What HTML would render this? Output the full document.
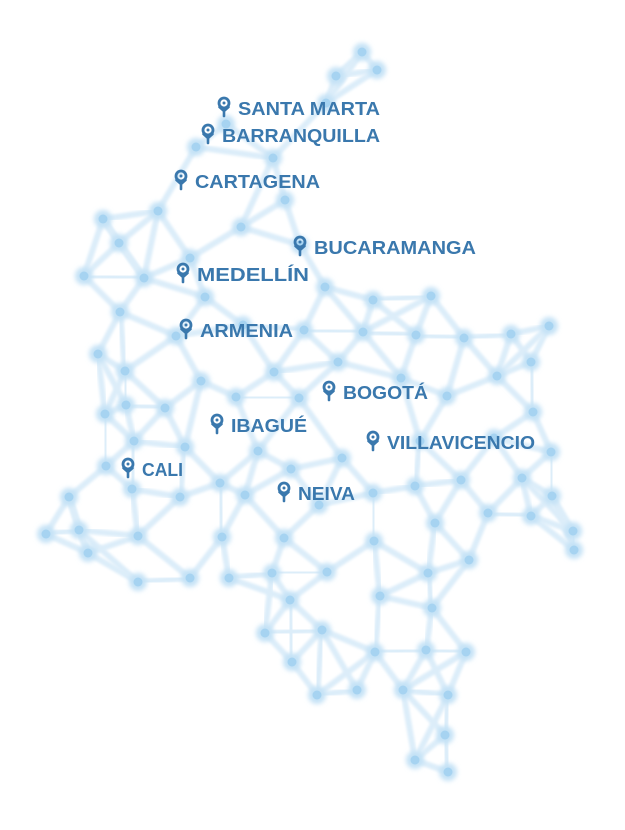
<!DOCTYPE html>
<html><head><meta charset="utf-8"><style>
html,body{margin:0;padding:0;background:#fff;width:625px;height:830px;overflow:hidden}
svg{display:block}
text{font-family:"Liberation Sans",sans-serif;font-weight:bold;font-size:18px;fill:#3a78ad}
</style></head><body>
<svg id="map" width="625" height="830" viewBox="0 0 625 830">
<defs><filter id="bl" x="-1" y="-1" width="3" height="3"><feGaussianBlur stdDeviation="2.5"/></filter>
<filter id="bl2"><feGaussianBlur stdDeviation="1.2"/></filter></defs>
<g id="edges"></g>
<g id="nodes"></g>
<g id="labels"></g>
</svg>
<script>
const nodeX=[362,377,336,326,226,196,273,158,103,119,285,241,300,190,84,144,205,120,325,373,431,243,304,363,416,464,511,549,98,176,338,531,125,201,274,401,497,447,105,126,165,236,299,533,134,185,258,420,342,494,551,106,220,291,69,132,180,245,319,373,415,461,522,552,46,79,488,531,573,574,435,138,222,284,374,469,88,190,138,229,272,327,428,290,380,432,265,322,375,426,292,466,317,357,403,448,445,415,448];
const nodeY=[52,70,76,103,124,147,158,211,219,243,200,227,245,258,276,278,297,312,287,300,296,325,330,332,335,338,334,326,354,336,362,362,371,381,372,378,376,396,414,405,408,397,398,412,441,447,451,441,458,438,452,466,483,469,497,489,497,495,505,493,486,480,478,496,534,530,513,516,531,550,523,536,537,538,541,560,553,578,582,578,573,572,573,600,596,608,633,630,652,650,662,652,695,690,690,695,735,760,772];
const cities=["SANTA MARTA","BARRANQUILLA","CARTAGENA","BUCARAMANGA","MEDELLÍN","ARMENIA","BOGOTÁ","IBAGUÉ","VILLAVICENCIO","CALI","NEIVA"];
const cityPinX=[224,208,181,300,183,186,329,217,373,128,284];
const cityPinY=[106,133,179,245,272,328,390,423,440,467,491];
const cityTextW=[142,158,125,162,112,93,85,76,148,41,57];
const NS='http://www.w3.org/2000/svg';
const eg=document.getElementById('edges'),ng=document.getElementById('nodes'),lg=document.getElementById('labels');
const n=nodeX.length,seen={};
for(let i=0;i<n;i++){
  const d=[];for(let j=0;j<n;j++)if(j!==i)d.push([Math.hypot(nodeX[i]-nodeX[j],nodeY[i]-nodeY[j]),j]);
  d.sort((a,b)=>a[0]-b[0]);
  for(let k=0;k<4;k++){const [dist,j]=d[k];if(dist>80&&k>0)continue;const key=Math.min(i,j)+'-'+Math.max(i,j);if(seen[key])continue;seen[key]=1;
    const l=document.createElementNS(NS,'line');
    
    
    l.setAttribute('x1',nodeX[i]);l.setAttribute('y1',nodeY[i]);l.setAttribute('x2',nodeX[j]);l.setAttribute('y2',nodeY[j]);
    l.setAttribute('stroke','#dcedf9');l.setAttribute('stroke-width','6');l.setAttribute('stroke-linecap','round');l.setAttribute('filter','url(#bl2)');
    eg.appendChild(l);}
}
for(let i=0;i<n;i++){
  const g=document.createElementNS(NS,'g');
  
  
  g.innerHTML=`<circle cx="${nodeX[i]}" cy="${nodeY[i]}" r="9" fill="#c4e2f6" filter="url(#bl)"/><circle cx="${nodeX[i]}" cy="${nodeY[i]}" r="4.5" fill="#a6d3f1"/>`;
  ng.appendChild(g);
}
for(let i=0;i<cities.length;i++){
  const x=cityPinX[i],y=cityPinY[i];
  const g=document.createElementNS(NS,'g');
  
  
  g.innerHTML=`<circle cx="${x}" cy="${y-3}" r="5" fill="none" stroke="#3a78ad" stroke-width="2.8"/><circle cx="${x}" cy="${y-3}" r="1.5" fill="#3a78ad"/><path d="M${x-4.5} ${y+1} L${x} ${y+5} L${x+4.5} ${y+1} M${x} ${y+4} L${x} ${y+10}" stroke="#3a78ad" stroke-width="2.6" fill="none" stroke-linecap="round"/><text x="${x+14}" y="${y+9}" textLength="${cityTextW[i]}" lengthAdjust="spacingAndGlyphs">${cities[i]}</text>`;
  lg.appendChild(g);
}
</script>
</body></html>
